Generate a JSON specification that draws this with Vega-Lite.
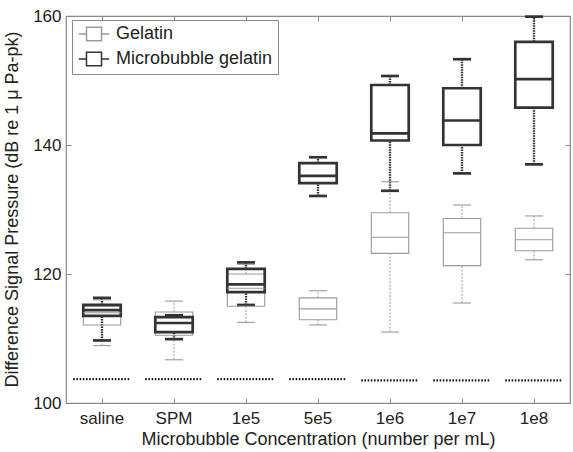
{
  "$schema": "https://vega.github.io/schema/vega-lite/v6.json",
  "width": 504,
  "height": 387,
  "autosize": {"type": "none"},
  "padding": {"left": 66, "top": 16, "right": 3, "bottom": 49},
  "background": "white",
  "config": {
    "font": "Liberation Sans",
    "view": {"stroke": "#8a8a8a", "strokeWidth": 1.2}
  },
  "datasets": {
    "boxes": [
      {"conc": "saline", "series": "Gelatin", "lo": 108.9, "q1": 112.1, "med": 114.0, "q3": 115.0, "hi": 116.0},
      {"conc": "SPM", "series": "Gelatin", "lo": 106.7, "q1": 110.5, "med": 112.4, "q3": 114.1, "hi": 115.8},
      {"conc": "1e5", "series": "Gelatin", "lo": 112.5, "q1": 115.0, "med": 117.8, "q3": 120.0, "hi": 121.5},
      {"conc": "5e5", "series": "Gelatin", "lo": 112.1, "q1": 112.9, "med": 114.6, "q3": 116.3, "hi": 117.4},
      {"conc": "1e6", "series": "Gelatin", "lo": 111.0, "q1": 123.2, "med": 125.7, "q3": 129.5, "hi": 134.3},
      {"conc": "1e7", "series": "Gelatin", "lo": 115.5, "q1": 121.3, "med": 126.4, "q3": 128.6, "hi": 130.7},
      {"conc": "1e8", "series": "Gelatin", "lo": 122.2, "q1": 123.6, "med": 125.3, "q3": 127.1, "hi": 129.0},
      {"conc": "saline", "series": "Microbubble gelatin", "lo": 109.7, "q1": 113.5, "med": 114.4, "q3": 115.2, "hi": 116.3},
      {"conc": "SPM", "series": "Microbubble gelatin", "lo": 109.9, "q1": 111.0, "med": 112.4, "q3": 113.3, "hi": 113.6},
      {"conc": "1e5", "series": "Microbubble gelatin", "lo": 115.2, "q1": 117.2, "med": 118.4, "q3": 120.8, "hi": 121.8},
      {"conc": "5e5", "series": "Microbubble gelatin", "lo": 132.1, "q1": 134.1, "med": 135.2, "q3": 137.2, "hi": 138.1},
      {"conc": "1e6", "series": "Microbubble gelatin", "lo": 132.9, "q1": 140.7, "med": 141.8, "q3": 149.3, "hi": 150.7},
      {"conc": "1e7", "series": "Microbubble gelatin", "lo": 135.6, "q1": 140.0, "med": 143.8, "q3": 148.8, "hi": 153.3},
      {"conc": "1e8", "series": "Microbubble gelatin", "lo": 137.0, "q1": 145.8, "med": 150.2, "q3": 156.0, "hi": 159.9}
    ],
    "floor": [
      {"conc": "saline", "floor": 103.7},
      {"conc": "SPM", "floor": 103.7},
      {"conc": "1e5", "floor": 103.7},
      {"conc": "5e5", "floor": 103.7},
      {"conc": "1e6", "floor": 103.5},
      {"conc": "1e7", "floor": 103.5},
      {"conc": "1e8", "floor": 103.5}
    ]
  },
  "data": {"name": "boxes"},
  "resolve": {"axis": {"x": "independent", "y": "independent"}},
  "layer": [
    {
      "mark": {"type": "rule"},
      "encoding": {
        "x": {"field": "conc", "type": "nominal", "sort": ["saline", "SPM", "1e5", "5e5", "1e6", "1e7", "1e8"], "scale": {"paddingInner": 0, "paddingOuter": 0}, "axis": null},
        "y": {"field": "lo", "type": "quantitative", "scale": {"domain": [100, 160], "nice": false, "zero": false}, "axis": null},
        "y2": {"field": "q1"},
        "stroke": {"condition": {"test": "datum.series === 'Gelatin'", "value": "#9a9a9a"}, "value": "#333333"},
        "strokeWidth": {"condition": {"test": "datum.series === 'Gelatin'", "value": 1}, "value": 2.4},
        "strokeDash": {"condition": {"test": "datum.series === 'Gelatin'", "value": [2, 1.5]}, "value": [1.5, 1]}
      }
    },
    {
      "mark": {"type": "rule"},
      "encoding": {
        "x": {"field": "conc", "type": "nominal", "sort": ["saline", "SPM", "1e5", "5e5", "1e6", "1e7", "1e8"], "axis": null},
        "y": {"field": "q3", "type": "quantitative", "axis": null},
        "y2": {"field": "hi"},
        "stroke": {"condition": {"test": "datum.series === 'Gelatin'", "value": "#9a9a9a"}, "value": "#333333"},
        "strokeWidth": {"condition": {"test": "datum.series === 'Gelatin'", "value": 1}, "value": 2.4},
        "strokeDash": {"condition": {"test": "datum.series === 'Gelatin'", "value": [2, 1.5]}, "value": [1.5, 1]}
      }
    },
    {
      "mark": {"type": "rule"},
      "encoding": {
        "x": {"field": "conc", "type": "nominal", "sort": ["saline", "SPM", "1e5", "5e5", "1e6", "1e7", "1e8"], "bandPosition": 0.375, "axis": null},
        "x2": {"field": "conc", "bandPosition": 0.625},
        "y": {"field": "lo", "type": "quantitative", "axis": null},
        "stroke": {"condition": {"test": "datum.series === 'Gelatin'", "value": "#9a9a9a"}, "value": "#333333"},
        "strokeWidth": {"condition": {"test": "datum.series === 'Gelatin'", "value": 1.1}, "value": 2.7}
      }
    },
    {
      "mark": {"type": "rule"},
      "encoding": {
        "x": {"field": "conc", "type": "nominal", "sort": ["saline", "SPM", "1e5", "5e5", "1e6", "1e7", "1e8"], "bandPosition": 0.375, "axis": null},
        "x2": {"field": "conc", "bandPosition": 0.625},
        "y": {"field": "hi", "type": "quantitative", "axis": null},
        "stroke": {"condition": {"test": "datum.series === 'Gelatin'", "value": "#9a9a9a"}, "value": "#333333"},
        "strokeWidth": {"condition": {"test": "datum.series === 'Gelatin'", "value": 1.1}, "value": 2.7}
      }
    },
    {
      "mark": {"type": "rect", "fillOpacity": 0, "fill": "white"},
      "encoding": {
        "x": {"field": "conc", "type": "nominal", "sort": ["saline", "SPM", "1e5", "5e5", "1e6", "1e7", "1e8"], "bandPosition": 0.24,
          "axis": {"orient": "bottom", "title": "Microbubble Concentration (number per mL)", "labelAngle": 0, "domain": false, "tickSize": -5, "tickColor": "#888", "labelPadding": 12, "labelFontSize": 17, "labelColor": "#222", "titleFontSize": 18, "titleFontWeight": "normal", "titleColor": "#222", "titleY": 27}},
        "x2": {"field": "conc", "bandPosition": 0.76},
        "y": {"field": "q1", "type": "quantitative",
          "axis": {"orient": "left", "title": "Difference Signal Pressure (dB re 1 μ Pa-pk)", "values": [100, 120, 140, 160], "domain": false, "grid": false, "tickSize": -5, "tickColor": "#888", "labelPadding": 10, "labelFontSize": 17, "labelColor": "#222", "titleFontSize": 18, "titleFontWeight": "normal", "titleColor": "#222", "titleX": -45, "titleY": 193}},
        "y2": {"field": "q3"},
        "stroke": {"field": "series", "type": "nominal", "scale": {"domain": ["Gelatin", "Microbubble gelatin"], "range": ["#9a9a9a", "#333333"]},
          "legend": {"orient": "none", "legendX": 6, "legendY": 4, "title": null, "fillColor": "white", "strokeColor": "#8a8a8a", "padding": 5, "rowPadding": 5,
            "symbolType": "M-1.9,0L-0.94,0M0.94,0L1.9,0M-0.94,-0.85L0.94,-0.85L0.94,0.85L-0.94,0.85Z", "symbolSize": 256, "symbolOffset": 8, "labelOffset": 13, "labelFontSize": 18, "labelColor": "#222",
            "encode": {"symbols": {"update": {"strokeWidth": {"signal": "datum.value === 'Gelatin' ? 1.1 : 2.7"}, "fill": {"value": "transparent"}, "fillOpacity": {"value": 0}}}}}},
        "strokeWidth": {"condition": {"test": "datum.series === 'Gelatin'", "value": 1.1}, "value": 2.7}
      }
    },
    {
      "mark": {"type": "rule"},
      "encoding": {
        "x": {"field": "conc", "type": "nominal", "sort": ["saline", "SPM", "1e5", "5e5", "1e6", "1e7", "1e8"], "bandPosition": 0.24, "axis": null},
        "x2": {"field": "conc", "bandPosition": 0.76},
        "y": {"field": "med", "type": "quantitative", "axis": null},
        "stroke": {"condition": {"test": "datum.series === 'Gelatin'", "value": "#9a9a9a"}, "value": "#333333"},
        "strokeWidth": {"condition": {"test": "datum.series === 'Gelatin'", "value": 1.1}, "value": 2.7}
      }
    },
    {
      "data": {"name": "floor"},
      "mark": {"type": "rule", "stroke": "#1a1a1a", "strokeWidth": 2.4, "strokeDash": [1.6, 1.6]},
      "encoding": {
        "x": {"field": "conc", "type": "nominal", "sort": ["saline", "SPM", "1e5", "5e5", "1e6", "1e7", "1e8"], "bandPosition": 0.1,
          "axis": {"orient": "top", "title": null, "labels": false, "domain": false, "tickSize": -5, "tickColor": "#888"}},
        "x2": {"field": "conc", "bandPosition": 0.9},
        "y": {"field": "floor", "type": "quantitative",
          "axis": {"orient": "right", "title": null, "labels": false, "values": [100, 120, 140, 160], "domain": false, "grid": false, "tickSize": -5, "tickColor": "#888"}}
      }
    }
  ]
}
